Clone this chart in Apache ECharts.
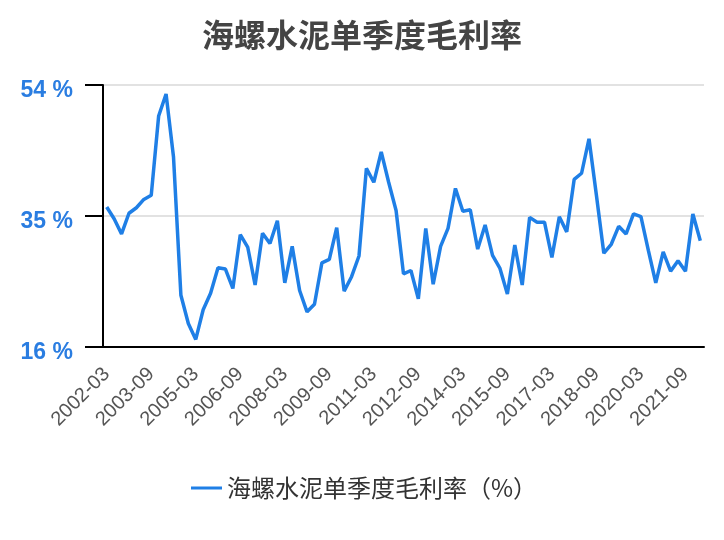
<!DOCTYPE html>
<html>
<head>
<meta charset="utf-8">
<script src="https://cdn.jsdelivr.net/npm/echarts@6/dist/echarts.min.js"></script>
<style>
  html, body { margin: 0; padding: 0; background: #fff; }
  #main { width: 724px; height: 540px; }
</style>
</head>
<body>
<div id="main"></div>
<script>
// 季度标签 2002-03 ~ 2022-03
var years = [2002, 2003, 2004, 2005, 2006, 2007, 2008, 2009, 2010, 2011,
  2012, 2013, 2014, 2015, 2016, 2017, 2018, 2019, 2020, 2021, 2022];
var months = ['03', '06', '09', '12'];
var quarters = [];
years.forEach(function (y) {
  months.forEach(function (m) {
    if (y === 2022 && m !== '03') return;
    quarters.push(y + '-' + m);
  });
});

// 单季度毛利率 (%)
var margin = [
  36.3, 34.6, 32.4, 35.4, 36.2, 37.4, 38.0, 49.5, 52.7, 43.6,
  23.5, 19.4, 17.1, 21.4, 23.8, 27.5, 27.3, 24.5, 32.3, 30.5,
  25.0, 32.5, 31.0, 34.3, 25.3, 30.6, 24.2, 21.1, 22.2, 28.2,
  28.7, 33.3, 24.1, 26.2, 29.2, 41.9, 39.9, 44.3, 39.9, 35.8,
  26.6, 27.1, 23.0, 33.2, 25.1, 30.6, 33.2, 39.0, 35.7, 35.9,
  30.2, 33.7, 29.3, 27.4, 23.7, 30.8, 25.0, 34.8, 34.1, 34.1,
  29.0, 34.9, 32.7, 40.3, 41.2, 46.2, 38.0, 29.6, 30.9, 33.5,
  32.4, 35.3, 34.9, 30.0, 25.3, 29.8, 27.0, 28.5, 27.0, 35.3,
  31.4
];

var yMin = 16, yMax = 54, yStep = 19;
var seriesName = '海螺水泥单季度毛利率（%）';

var font = "'Liberation Sans', 'Noto Sans CJK SC', sans-serif";
var cjk = "'Noto Sans CJK SC', 'Liberation Sans', sans-serif";

var myChart = echarts.init(document.getElementById('main'));

var option = {
  animation: false,
  title: {
    text: '海螺水泥单季度毛利率',
    left: 'center',
    top: 14,
    textStyle: {
      fontFamily: cjk,
      fontSize: 32,
      fontWeight: 'bold',
      color: '#444'
    }
  },
  legend: {
    data: [seriesName],
    left: 186,
    top: 471,
    icon: 'rect',
    itemWidth: 31,
    itemHeight: 3,
    itemGap: 12,
    textStyle: {
      fontFamily: cjk,
      fontSize: 24,
      color: '#333'
    }
  },
  grid: {
    left: 103,
    right: 20,
    top: 85,
    bottom: 193,
    containLabel: false
  },
  xAxis: {
    type: 'category',
    data: quarters,
    boundaryGap: true,
    axisLine: { lineStyle: { color: '#000', width: 2 } },
    axisTick: {
      alignWithLabel: true,
      interval: 5,
      length: 18,
      lineStyle: { color: '#000', width: 2 }
    },
    axisLabel: {
      interval: 5,
      rotate: 45,
      margin: 24,
      fontFamily: font,
      fontSize: 20,
      color: '#555'
    },
    splitLine: { show: false }
  },
  yAxis: {
    type: 'value',
    min: yMin,
    max: yMax,
    interval: yStep,
    axisLine: { show: true, lineStyle: { color: '#000', width: 2 } },
    axisTick: {
      show: true,
      length: 18,
      lineStyle: { color: '#000', width: 2 }
    },
    axisLabel: {
      formatter: function (v) { return '{v|' + v + ' %}'; },
      margin: 30,
      rich: {
        v: {
          padding: [11, 0, 0, 0],
          fontFamily: font,
          fontSize: 23,
          fontWeight: 'bold',
          color: '#2a7de1'
        }
      }
    },
    splitLine: { lineStyle: { color: '#e2e2e2', width: 2 } }
  },
  series: [{
    name: seriesName,
    type: 'line',
    data: margin,
    showSymbol: false,
    lineStyle: { color: '#1f7fe6', width: 3.5 },
    itemStyle: { color: '#1f7fe6' }
  }]
};

myChart.setOption(option);
</script>
</body>
</html>
